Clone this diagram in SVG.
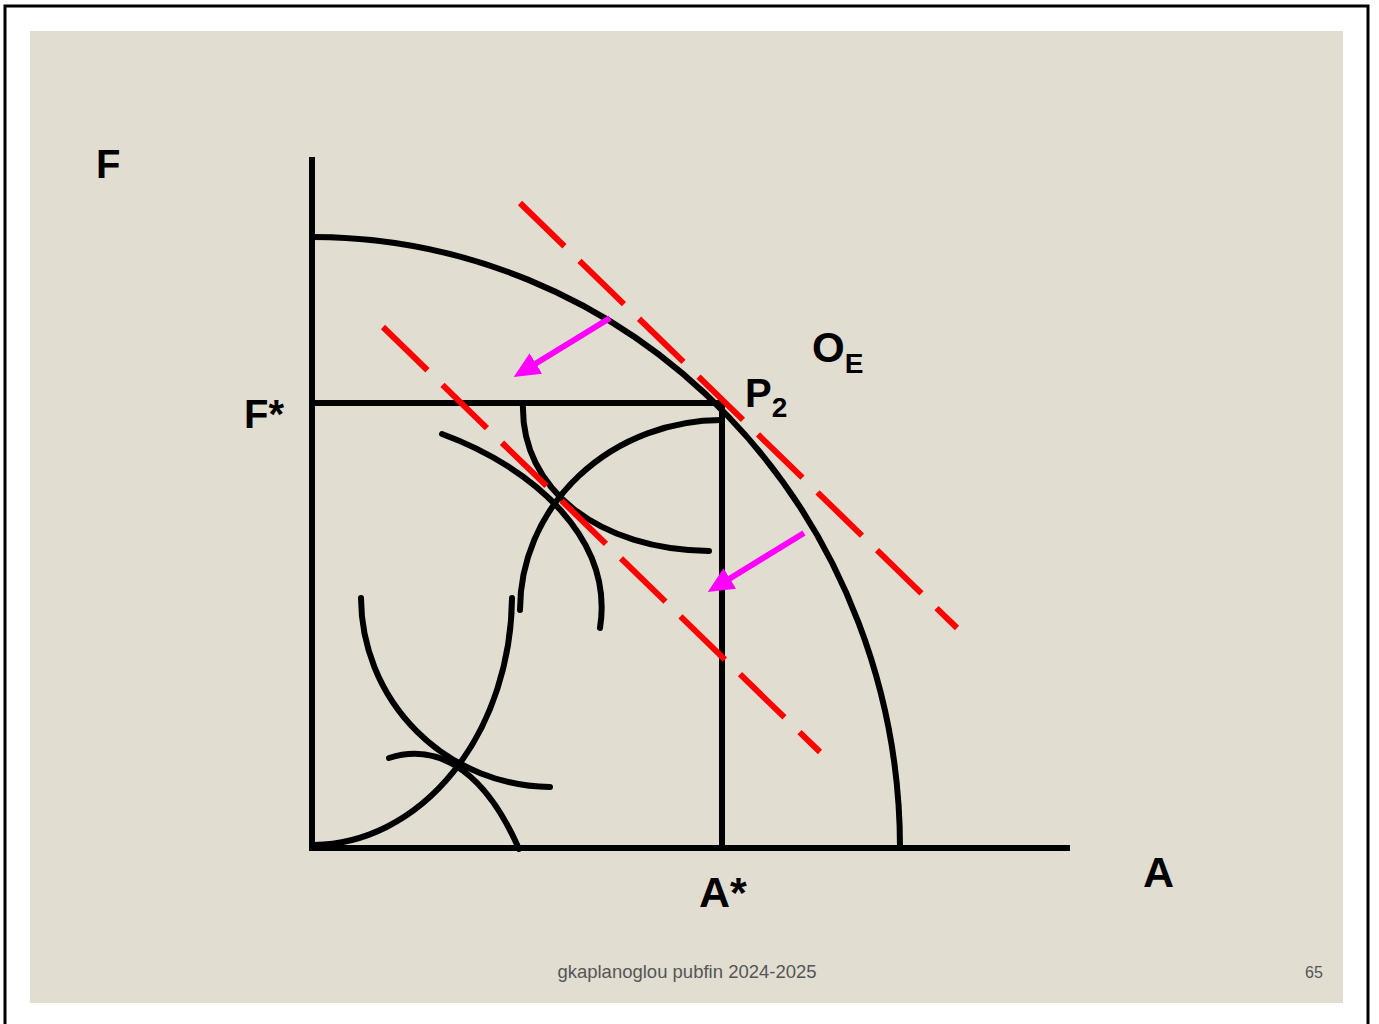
<svg xmlns="http://www.w3.org/2000/svg" width="1379" height="1024" viewBox="0 0 1379 1024">
<style>
.ax{stroke:#000;stroke-width:6;fill:none;stroke-linecap:butt}
.cv{stroke:#000;stroke-width:6;fill:none;stroke-linecap:round}
.bd{stroke:#FF0000;stroke-width:6;fill:none;stroke-dasharray:62 21}
.ar{stroke:#FF00FF;stroke-width:6;fill:none}
.lb{font-family:"Liberation Sans",Arial,sans-serif;font-weight:bold;fill:#000}
.ft{font-family:"Liberation Sans",Arial,sans-serif;fill:#555}
</style>
<defs>
<marker id="mh" markerUnits="userSpaceOnUse" markerWidth="30" markerHeight="26" refX="1" refY="12" orient="auto">
<path d="M0,0 L26,12 L0,24 Z" fill="#FF00FF"/>
</marker>
</defs>
<rect x="0" y="0" width="1379" height="1024" fill="#fff"/>
<path d="M5,1024 V6 H1368 V1024" stroke="#000" stroke-width="3" fill="none"/>
<rect x="30" y="31" width="1313" height="972" fill="#E2DDD1"/>
<g id="axes">
<line class="ax" x1="312" y1="157" x2="312" y2="851"/>
<line class="ax" x1="312" y1="848" x2="1070" y2="848"/>
<line class="ax" x1="312" y1="403" x2="725" y2="403"/>
<line class="ax" x1="722" y1="403" x2="722" y2="848"/>
</g>
<g id="frontier">
<path class="ax" d="M312,237 A588,611 0 0 1 900,848"/>
</g>
<g id="curves">
<path class="cv" d="M523,403 C520,490 600,550 709,551"/>
<path class="cv" d="M442,434 C535,468 614,540 600,628"/>
<path class="cv" d="M722,420 A202,190 0 0 0 520,610"/>
<path class="cv" d="M314,845 A200,250 0 0 0 512,598"/>
<path class="cv" d="M361,598 A191,190 0 0 0 550,787"/>
<path class="cv" d="M389,758 C430,745 480,760 519,849"/>
</g>
<g id="budget">
<line class="bd" x1="520" y1="203" x2="957" y2="628"/>
<line class="bd" x1="383" y1="327" x2="820" y2="752"/>
</g>
<g id="arrows">
<line class="ar" x1="610" y1="318" x2="535" y2="364" marker-end="url(#mh)"/>
<line class="ar" x1="804" y1="533" x2="729" y2="579" marker-end="url(#mh)"/>
</g>
<g id="labels">
<text class="lb" x="96" y="178" font-size="40">F</text>
<text class="lb" x="244" y="428" font-size="40">F*</text>
<text class="lb" x="745" y="407" font-size="40">P<tspan font-size="28" dy="10">2</tspan></text>
<text class="lb" x="812" y="362" font-size="42">O<tspan font-size="28" dy="11">E</tspan></text>
<text class="lb" x="1143" y="887" font-size="43">A</text>
<text class="lb" x="699" y="907" font-size="43">A*</text>
<text class="ft" x="687" y="978" font-size="18.5" text-anchor="middle">gkaplanoglou pubfin 2024-2025</text>
<text class="ft" x="1314" y="978" font-size="16" text-anchor="middle">65</text>
</g>
</svg>
